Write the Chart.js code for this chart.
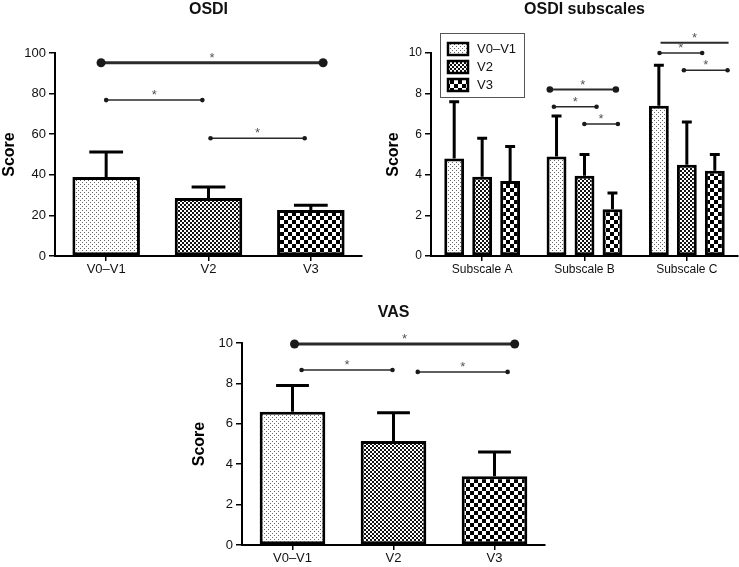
<!DOCTYPE html>
<html>
<head>
<meta charset="utf-8">
<script src="https://cdn.jsdelivr.net/npm/chart.js@4.4.1/dist/chart.umd.min.js"></script>
<style>
  html, body { margin: 0; padding: 0; background: #fff; }
  body { width: 739px; height: 567px; position: relative; overflow: hidden; }
  .box { position: absolute; }
  .over { pointer-events: none; }
</style>
</head>
<body>
<div class="box" style="left:0;top:0;width:370px;height:285px"><canvas id="osdi"></canvas></div>
<div class="box over" style="left:0;top:0;width:370px;height:285px"><canvas id="osdiSig"></canvas></div>
<div class="box" style="left:370px;top:0;width:369px;height:285px"><canvas id="sub"></canvas></div>
<div class="box over" style="left:370px;top:0;width:369px;height:285px"><canvas id="subSig"></canvas></div>
<div class="box" style="left:190px;top:283px;width:370px;height:284px"><canvas id="vas"></canvas></div>
<div class="box over" style="left:190px;top:283px;width:370px;height:284px"><canvas id="vasSig"></canvas></div>
<script>
const visits = ["V0–V1", "V2", "V3"];
const subscales = ["Subscale A", "Subscale B", "Subscale C"];

// OSDI total score (mean and top of error bar)
const osdiMean = [38.9, 28.6, 22.6];
const osdiErr = [51.2, 34, 25];
const osdiSigFrom = [-0.05, 0.0, 1.02];
const osdiSigTo = [2.12, 0.94, 1.94];
const osdiSigY = [95.2, 76.8, 58];

// OSDI subscales, one array per visit (A, B, C)
const subV01 = [4.8, 4.9, 7.4];
const subV2 = [3.9, 3.95, 4.5];
const subV3 = [3.7, 2.3, 4.2];
const subV01Err = [7.6, 6.9, 9.4];
const subV2Err = [5.8, 5.0, 6.6];
const subV3Err = [5.4, 3.1, 5.0];
const subSigFrom = [0.67, 0.71, 1.01, 1.76, 1.75, 1.99];
const subSigTo = [1.32, 1.13, 1.34, 2.43, 2.17, 2.42];
const subSigY = [8.2, 7.35, 6.5, 10.5, 10.0, 9.15];

// VAS
const vasMean = [6.6, 5.15, 3.4];
const vasErr = [7.9, 6.55, 4.6];
const vasSigFrom = [0.02, 0.09, 1.24];
const vasSigTo = [2.2, 0.99, 2.13];
const vasSigY = [9.95, 8.66, 8.57];

Chart.defaults.font.family = '"Liberation Sans", Arial, sans-serif';
Chart.defaults.color = '#111';

function makePattern(size, draw) {
  const c = document.createElement('canvas');
  c.width = c.height = size;
  const g = c.getContext('2d');
  g.fillStyle = '#fff';
  g.fillRect(0, 0, size, size);
  draw(g);
  return g.createPattern(c, 'repeat');
}
const pDots = makePattern(4, g => {
  g.fillStyle = '#666';
  g.fillRect(0, 0, 1, 1);
  g.fillRect(2, 2, 1, 1);
});
const pFine = makePattern(4, g => {
  g.fillStyle = '#111';
  g.fillRect(0, 0, 2, 2);
  g.fillRect(2, 2, 2, 2);
});
const pCheck = makePattern(8, g => {
  g.fillStyle = '#000';
  g.fillRect(0, 0, 4, 4);
  g.fillRect(4, 4, 4, 4);
});
const patterns = [pDots, pFine, pCheck];

// upper error bars with caps
const errorBars = {
  id: 'errorBars',
  afterDatasetsDraw(chart) {
    const ctx = chart.ctx;
    const yScale = chart.scales.y;
    chart.data.datasets.forEach((ds, i) => {
      if (!ds.errorTop) return;
      chart.getDatasetMeta(i).data.forEach((bar, j) => {
        const yTop = yScale.getPixelForValue(ds.errorTop[j]);
        const half = bar.width * 0.25;
        ctx.save();
        ctx.strokeStyle = '#000';
        ctx.lineWidth = 3;
        ctx.beginPath();
        ctx.moveTo(bar.x, bar.y);
        ctx.lineTo(bar.x, yTop);
        ctx.moveTo(bar.x - half, yTop);
        ctx.lineTo(bar.x + half, yTop);
        ctx.stroke();
        ctx.restore();
      });
    });
  }
};

// asterisk above each significance line
const stars = {
  id: 'stars',
  afterDatasetsDraw(chart) {
    const ctx = chart.ctx;
    chart.data.datasets.forEach((ds, i) => {
      const pts = chart.getDatasetMeta(i).data;
      const x = (pts[0].x + pts[1].x) / 2;
      const y = (pts[0].y + pts[1].y) / 2;
      ctx.save();
      ctx.font = '13px "Liberation Sans", Arial, sans-serif';
      ctx.fillStyle = '#555';
      ctx.textAlign = 'center';
      ctx.textBaseline = 'alphabetic';
      ctx.fillText('*', x, y - 1);
      ctx.restore();
    });
  }
};

// boxed legend inside the plot (subscales chart)
const boxLegend = {
  id: 'boxLegend',
  afterDraw(chart) {
    const ctx = chart.ctx, a = chart.chartArea;
    const x = a.left + 9, y = 33, w = 84, h = 64;
    ctx.save();
    ctx.strokeStyle = '#555';
    ctx.lineWidth = 1;
    ctx.strokeRect(x + 0.5, y + 0.5, w, h);
    chart.data.datasets.forEach((ds, k) => {
      const cy = y + 16 + k * 18;
      ctx.fillStyle = ds.backgroundColor;
      ctx.fillRect(x + 8, cy - 6, 20, 12);
      ctx.strokeStyle = '#000';
      ctx.lineWidth = 2.5;
      ctx.strokeRect(x + 8, cy - 6, 20, 12);
      ctx.fillStyle = '#111';
      ctx.font = '13px "Liberation Sans", Arial, sans-serif';
      ctx.textBaseline = 'middle';
      ctx.fillText(ds.label, x + 37, cy);
    });
    ctx.restore();
  }
};

// layout of each panel (pixels)
const panels = {
  osdi: { title: 'OSDI', padRight: 8, titleTop: 0, titleBottom: 33.8, xHeight: 29, xFont: 13, yFont: 13,
          yMax: 100, yStep: 20, yTitlePad: 0, yWidth: 55, top: 53 },
  sub:  { title: 'OSDI subscales', padRight: 1, titleTop: 0, titleBottom: 33.8, xHeight: 29, xFont: 12, yFont: 12,
          yMax: 10, yStep: 2, yTitlePad: 14.4, yWidth: 61, top: 53 },
  vas:  { title: 'VAS', padRight: 15, titleTop: 20.4, titleBottom: 20.4, xHeight: 22, xFont: 13, yFont: 13,
          yMax: 10, yStep: 2, yTitlePad: 0, yWidth: 52, top: 60 }
};

function barOptions(o) {
  return {
    responsive: true,
    maintainAspectRatio: false,
    animation: false,
    events: [],
    layout: { padding: { left: 0, right: o.padRight, top: 0, bottom: 0 } },
    plugins: {
      legend: { display: false },
      tooltip: { enabled: false },
      title: {
        display: true, text: o.title, fullSize: false, color: '#111',
        font: { size: 16, weight: 'bold' },
        padding: { top: o.titleTop, bottom: o.titleBottom }
      }
    },
    scales: {
      x: {
        offset: true,
        grid: { offset: false, drawOnChartArea: false, tickLength: 5, color: '#000', lineWidth: 1.5 },
        border: { color: '#000', width: 2 },
        ticks: { color: '#111', font: { size: o.xFont }, padding: 1 },
        afterFit: s => { s.height = o.xHeight; }
      },
      y: {
        min: 0, max: o.yMax,
        ticks: { stepSize: o.yStep, color: '#111', font: { size: o.yFont }, padding: 3 },
        grid: { drawOnChartArea: false, tickLength: 6, color: '#000', lineWidth: 1.5 },
        border: { color: '#000', width: 2 },
        title: {
          display: true, text: 'Score', color: '#000',
          font: { size: 16, weight: 'bold' }, padding: { top: o.yTitlePad, bottom: 0 }
        },
        afterFit: s => { s.width = o.yWidth; }
      }
    }
  };
}

// significance brackets: transparent line chart laid over the same plot area
function sigChart(id, o, from, to, yv, medium) {
  const el = document.getElementById(id);
  const h = el.parentNode.clientHeight;
  return new Chart(el, {
    type: 'line',
    data: {
      datasets: from.map((f, k) => {
        const heavy = k === 0 || (medium && k % 3 === 0);
        const lw = heavy ? (medium ? 2 : 3) : 1.5;
        const r = heavy ? (medium ? 3.3 : 4.5) : 2.3;
        return {
          data: [{ x: f, y: yv[k] }, { x: to[k], y: yv[k] }],
          borderColor: '#2a2a2a', borderWidth: lw,
          pointRadius: r, pointHoverRadius: r,
          pointBackgroundColor: '#1a1a1a', pointBorderWidth: 0,
          fill: false, clip: false
        };
      })
    },
    options: {
      responsive: true,
      maintainAspectRatio: false,
      animation: false,
      events: [],
      layout: { padding: { left: o.yWidth, right: o.padRight, top: o.top, bottom: o.xHeight } },
      plugins: { legend: { display: false }, tooltip: { enabled: false } },
      scales: {
        x: { type: 'linear', display: false, min: -0.5, max: 2.5 },
        y: { type: 'linear', display: false, min: 0, max: o.yMax }
      }
    },
    plugins: [stars]
  });
}

new Chart(document.getElementById('osdi'), {
  type: 'bar',
  data: {
    labels: visits,
    datasets: [{
      data: osdiMean, errorTop: osdiErr, backgroundColor: patterns,
      borderColor: '#000', borderWidth: 3, borderSkipped: false,
      barPercentage: 0.66, categoryPercentage: 1
    }]
  },
  options: barOptions(panels.osdi),
  plugins: [errorBars]
});
sigChart('osdiSig', panels.osdi, osdiSigFrom, osdiSigTo, osdiSigY, false);

new Chart(document.getElementById('sub'), {
  type: 'bar',
  data: {
    labels: subscales,
    datasets: [
      { label: visits[0], data: subV01, errorTop: subV01Err, backgroundColor: pDots },
      { label: visits[1], data: subV2, errorTop: subV2Err, backgroundColor: pFine },
      { label: visits[2], data: subV3, errorTop: subV3Err, backgroundColor: pCheck }
    ].map(d => Object.assign(d, {
      borderColor: '#000', borderWidth: 3, borderSkipped: false,
      barPercentage: 0.71, categoryPercentage: 0.82
    }))
  },
  options: barOptions(panels.sub),
  plugins: [errorBars, boxLegend]
});
sigChart('subSig', panels.sub, subSigFrom, subSigTo, subSigY, true);

new Chart(document.getElementById('vas'), {
  type: 'bar',
  data: {
    labels: visits,
    datasets: [{
      data: vasMean, errorTop: vasErr, backgroundColor: patterns,
      borderColor: '#000', borderWidth: 3, borderSkipped: false,
      barPercentage: 0.65, categoryPercentage: 1
    }]
  },
  options: barOptions(panels.vas),
  plugins: [errorBars]
});
sigChart('vasSig', panels.vas, vasSigFrom, vasSigTo, vasSigY, false);
</script>
</body>
</html>
